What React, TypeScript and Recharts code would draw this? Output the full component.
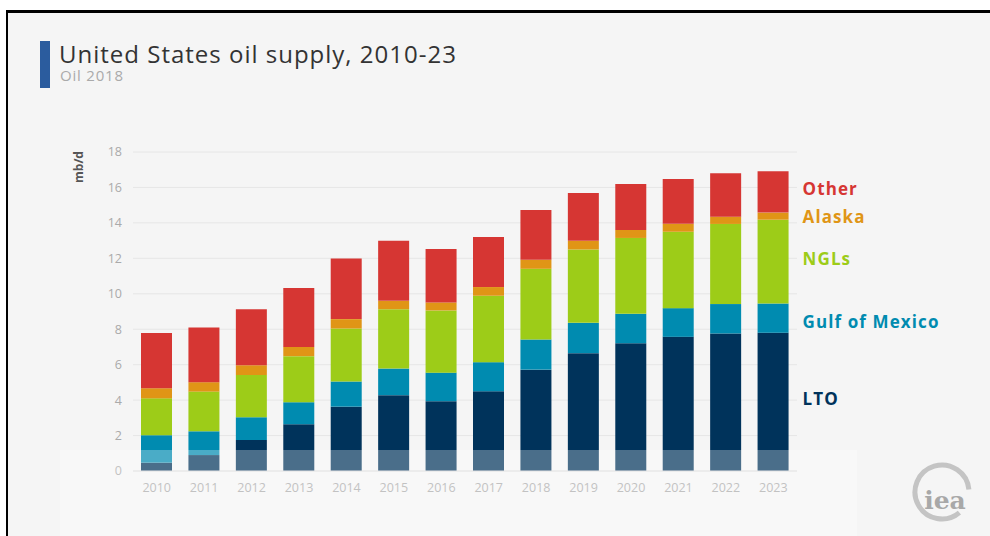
import { BarChart, Bar, XAxis, YAxis, CartesianGrid, LabelList } from "recharts";

const years = ["2010", "2011", "2012", "2013", "2014", "2015", "2016", "2017", "2018", "2019", "2020", "2021", "2022", "2023"];
const lto = [0.47, 0.9, 1.75, 2.64, 3.63, 4.28, 3.94, 4.5, 5.72, 6.65, 7.21, 7.57, 7.76, 7.8];
const gulfOfMexico = [1.55, 1.34, 1.28, 1.24, 1.42, 1.5, 1.61, 1.64, 1.7, 1.71, 1.66, 1.62, 1.66, 1.65];
const ngls = [2.08, 2.24, 2.39, 2.6, 2.99, 3.35, 3.51, 3.75, 3.99, 4.14, 4.28, 4.31, 4.52, 4.73];
const alaska = [0.57, 0.53, 0.55, 0.52, 0.53, 0.47, 0.45, 0.49, 0.51, 0.49, 0.45, 0.45, 0.41, 0.4];
const other = [3.11, 3.09, 3.16, 3.32, 3.42, 3.39, 3.02, 2.82, 2.81, 2.7, 2.6, 2.53, 2.45, 2.33];
const yTicks = [0, 2, 4, 6, 8, 10, 12, 14, 16, 18];

const data = years.map((year, i) => ({
  year,
  lto: lto[i],
  gom: gulfOfMexico[i],
  ngls: ngls[i],
  alaska: alaska[i],
  other: other[i],
}));

const series = [
  { key: "lto", name: "LTO", color: "#00335b", dy: -3 },
  { key: "gom", name: "Gulf of Mexico", color: "#008bb0", dy: 3 },
  { key: "ngls", name: "NGLs", color: "#9dcc18", dy: -3 },
  { key: "alaska", name: "Alaska", color: "#e09516", dy: 0 },
  { key: "other", name: "Other", color: "#d63633", dy: -3 },
];

const font = "'Open Sans', sans-serif";

// series name written beside the last bar, at the middle of its segment
const sideLabel = (name: string, color: string, dy: number) => (props: any) => {
  const { x, y, width, height, index } = props;
  if (index !== years.length - 1) return null;
  return (
    <text
      x={Number(x) + Number(width) + 14}
      y={Number(y) + Number(height) / 2 + dy}
      dominantBaseline="central"
      fill={color}
      fontSize={17}
      fontWeight={700}
      letterSpacing={1.1}
      fontFamily={font}
    >
      {name}
    </text>
  );
};

export default function App() {
  return (
    <div style={{ position: "fixed", left: 0, top: 0, width: 990, height: 536, background: "#fff", overflow: "hidden", fontFamily: font }}>
      <div style={{ position: "absolute", left: 6, top: 10, width: 1000, height: 540, background: "#f5f5f5", borderTop: "3px solid #000", borderLeft: "2px solid #000" }} />
      <div style={{ position: "absolute", left: 40, top: 41, width: 10, height: 47, background: "#2b5c9e" }} />
      <div style={{ position: "absolute", left: 59, top: 42, fontSize: 24, letterSpacing: 1, color: "#333", whiteSpace: "nowrap", lineHeight: "24px" }}>
        United States oil supply, 2010-23
      </div>
      <div style={{ position: "absolute", left: 60, top: 68, fontSize: 15, letterSpacing: 0.8, color: "#aaa", whiteSpace: "nowrap", lineHeight: "15px" }}>
        Oil 2018
      </div>
      <div style={{ position: "absolute", left: 0, top: 0 }}>
        <BarChart width={990} height={536} data={data} margin={{ top: 152, right: 193, left: 93, bottom: 35 }} barSize={31}>
          <CartesianGrid vertical={false} stroke="#e6e6e6" />
          <XAxis
            dataKey="year"
            height={30}
            tickLine={false}
            axisLine={{ stroke: "#dddddd" }}
            tick={{ fill: "#aaaaaa", fontSize: 12.5, fontFamily: font }}
            tickMargin={6}
          />
          <YAxis
            width={40}
            domain={[0, 18]}
            ticks={yTicks}
            tickLine={false}
            axisLine={false}
            tick={{ fill: "#aaaaaa", fontSize: 12.5, fontFamily: font }}
            tickMargin={5}
          />
          {series.map((s) => (
            <Bar key={s.key} dataKey={s.key} name={s.name} stackId="supply" fill={s.color} isAnimationActive={false}>
              <LabelList dataKey={s.key} content={sideLabel(s.name, s.color, s.dy)} />
            </Bar>
          ))}
          <text x={78} y={167} transform="rotate(-90 78 167)" textAnchor="middle" dominantBaseline="central" fill="#555" fontSize={12} fontWeight={700} fontFamily={font}>
            mb/d
          </text>
        </BarChart>
      </div>
      {/* faint watermark band over the bar bottoms */}
      <div style={{ position: "absolute", left: 60, top: 450, width: 797, height: 86, background: "rgba(255,255,255,0.29)", pointerEvents: "none" }} />
      <svg style={{ position: "absolute", left: 905, top: 455 }} width={75} height={75}>
        <path d="M 63.9 34.6 A 27 27 0 1 0 54.4 57.7" fill="none" stroke="#c4c4c4" strokeWidth={5} />
        <text x={40} y={45} textAnchor="middle" dominantBaseline="central" fill="#a8a8a8" fontSize={25} fontWeight={700} fontFamily="'DejaVu Serif', serif">
          iea
        </text>
      </svg>
    </div>
  );
}
